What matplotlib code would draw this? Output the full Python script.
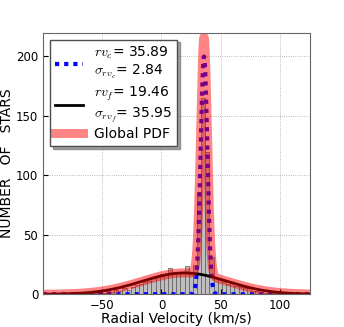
import numpy as np
import matplotlib
matplotlib.use("Agg")
import matplotlib.pyplot as plt

plt.rcParams['mathtext.fontset'] = 'cm'
plt.rcParams['font.family'] = 'DejaVu Sans'

# histogram: 64 bins of 3.5 km/s starting at -99.5
bin_start = -99.5
bin_width = 3.5
counts = [0, 0, 0, 0, 0, 0, 1, 0, 0, 1,
          0, 1, 1, 2, 1, 3, 2, 4, 3, 5,
          4, 6, 8, 9, 10, 11, 14, 15, 17, 16,
          22, 18, 19, 19, 24, 17, 25, 86, 165, 120,
          31, 14, 13, 10, 9, 10, 7, 6, 5, 5,
          3, 3, 2, 1, 1, 1, 0, 1, 0, 0,
          0, 0, 0, 0]

# fitted gaussian components (from legend)
rv_c, sig_c, amp_c = 35.89, 2.84, 200.0
rv_f, sig_f, amp_f = 19.46, 35.95, 18.0

edges = bin_start + bin_width * np.arange(len(counts) + 1)
centers = 0.5 * (edges[:-1] + edges[1:])

x = np.linspace(-100, 125, 1000)
clus = amp_c * np.exp(-0.5 * ((x - rv_c) / sig_c) ** 2)
field = amp_f * np.exp(-0.5 * ((x - rv_f) / sig_f) ** 2)

fig = plt.figure(figsize=(3.44, 3.27), dpi=100)
ax = fig.add_subplot(111)

ax.bar(centers, counts, width=bin_width, color='0.75', edgecolor='0.35', linewidth=0.5)
ax.plot(x, clus, color='blue', lw=3, dashes=(1, 1.2),
        label='$rv_c$= %.2f\n$\\sigma_{rv_c}$= %.2f' % (rv_c, sig_c))
ax.plot(x, field, '-', color='black', lw=2,
        label='$rv_f$= %.2f\n$\\sigma_{rv_f}$= %.2f' % (rv_f, sig_f))
ax.plot(x, clus + field, '-', color='red', lw=6.5, alpha=0.48, label='Global PDF')

ax.set_xlim(-100, 125)
ax.set_ylim(0, 220)
ax.set_xticks([-50, 0, 50, 100])
ax.set_yticks([0, 50, 100, 150, 200])
ax.grid(True, linestyle=':', color='0.65', lw=0.6)
ax.tick_params(direction='in', labelsize=8.5)
for s in ax.spines.values():
    s.set_color('0.4')
ax.set_xlabel('Radial Velocity (km/s)', fontsize=10, labelpad=0)
ax.set_ylabel('NUMBER   OF   STARS', fontsize=10, labelpad=1)

leg = ax.legend(loc='upper left', fontsize=10, shadow=True, fancybox=False,
                handlelength=2, borderpad=0.35, labelspacing=0.25)
leg.get_frame().set_edgecolor('0.3')

fig.subplots_adjust(left=0.125, right=0.9, bottom=0.1, top=0.9)
fig.savefig('out.png', dpi=100)
